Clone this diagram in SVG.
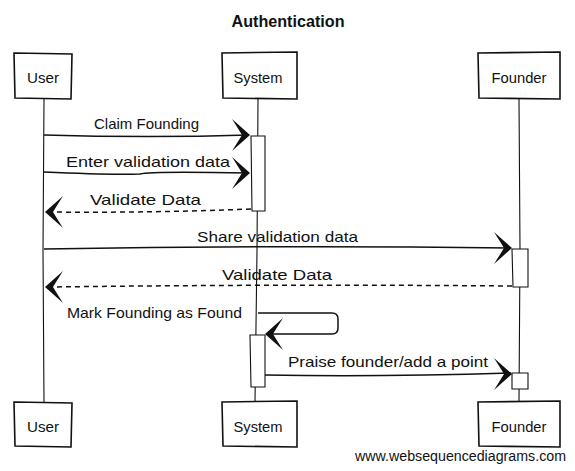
<svg xmlns="http://www.w3.org/2000/svg" width="575" height="471" viewBox="0 0 575 471">
<style>
.bg{fill:#ffffff}
.box{fill:#ffffff;stroke:#111;stroke-width:1.6}
.life{fill:none;stroke:#111;stroke-width:1.1}
.act{fill:#ffffff;stroke:#111;stroke-width:1.1}
.msg{fill:none;stroke:#111;stroke-width:1.5}
.dash{fill:none;stroke:#111;stroke-width:1.5;stroke-dasharray:5 4}
.lbl{font-family:"Liberation Sans",Arial,sans-serif;font-size:15px;fill:#111}
.name{font-family:"Liberation Sans",Arial,sans-serif;font-size:15px;fill:#111;text-anchor:middle}
.title{font-family:"Liberation Sans",Arial,sans-serif;font-size:16px;font-weight:bold;fill:#111;text-anchor:middle}
.wm{font-family:"Liberation Sans",Arial,sans-serif;font-size:14px;fill:#111}
</style>
<defs>
<path id="ah" d="M0,0 L-18,-16 Q-11,-5 -8,0 Q-11,5 -18,16 Z" fill="#111"/>
</defs>
<rect class="bg" x="0" y="0" width="575" height="471"/>
<text class="title" x="288" y="27" textLength="113" lengthAdjust="spacingAndGlyphs">Authentication</text>

<g id="lifelines">
<path class="life" d="M44,99 L43,250 L44,402"/>
<path class="life" d="M258,99 L257,250 L255,402"/>
<path class="life" d="M519,99 L520,250 L519,402"/>
</g>

<g id="user">
<path class="box" d="M14,53 L72,54 L71,99 L15,98 Z"/>
<text class="name" x="43" y="83" textLength="32" lengthAdjust="spacingAndGlyphs">User</text>
<path class="box" d="M14,402 L72,403 L71,447 L15,446 Z"/>
<text class="name" x="43" y="432" textLength="32" lengthAdjust="spacingAndGlyphs">User</text>
</g>

<g id="system">
<path class="box" d="M222,53 L297,52 L297,99 L223,98 Z"/>
<text class="name" x="258" y="83" textLength="49" lengthAdjust="spacingAndGlyphs">System</text>
<path class="box" d="M222,402 L297,401 L297,447 L223,446 Z"/>
<text class="name" x="258" y="432" textLength="49" lengthAdjust="spacingAndGlyphs">System</text>
</g>

<g id="founder">
<path class="box" d="M478,53 L560,52 L560,99 L479,98 Z"/>
<text class="name" x="519" y="83" textLength="55" lengthAdjust="spacingAndGlyphs">Founder</text>
<path class="box" d="M478,402 L560,401 L560,447 L479,446 Z"/>
<text class="name" x="519" y="432" textLength="55" lengthAdjust="spacingAndGlyphs">Founder</text>
</g>

<g id="activations">
<path class="act" d="M251,136 L265,136 L265,211 L252,211 Z"/>
<path class="act" d="M512,249 L528,249 L528,287 L513,287 Z"/>
<path class="act" d="M250,335 L265,335 L265,387 L251,387 Z"/>
<path class="act" d="M512,373 L528,373 L528,389 L512,389 Z"/>
</g>

<g id="connectors">
<path class="msg" d="M44,135 Q150,138 249,135"/>
<use href="#ah" transform="translate(250,135)"/>
<text class="lbl" x="94" y="129" textLength="105" lengthAdjust="spacingAndGlyphs">Claim Founding</text>

<path class="msg" d="M44,172 Q110,175 140,174 Q150,171 249,173"/>
<use href="#ah" transform="translate(250,173)"/>
<text class="lbl" x="66" y="167" textLength="164" lengthAdjust="spacingAndGlyphs">Enter validation data</text>

<path class="dash" d="M251,209 Q150,213 50,212"/>
<use href="#ah" transform="translate(45,212) rotate(180)"/>
<text class="lbl" x="90" y="205" textLength="111" lengthAdjust="spacingAndGlyphs">Validate Data</text>

<path class="msg" d="M44,249 Q280,245 511,248"/>
<use href="#ah" transform="translate(512,248)"/>
<text class="lbl" x="197" y="242" textLength="161" lengthAdjust="spacingAndGlyphs">Share validation data</text>

<path class="dash" d="M512,286 Q280,284 50,287"/>
<use href="#ah" transform="translate(45,287) rotate(180)"/>
<text class="lbl" x="222" y="280" textLength="110" lengthAdjust="spacingAndGlyphs">Validate Data</text>

<path class="msg" d="M258,313 L332,313 Q338,313 338,319 L338,328 Q338,334 332,334 L266,334"/>
<use href="#ah" transform="translate(265,334) rotate(180)"/>
<text class="lbl" x="67" y="318" textLength="175" lengthAdjust="spacingAndGlyphs">Mark Founding as Found</text>

<path class="msg" d="M265,375 Q380,377 511,373"/>
<use href="#ah" transform="translate(512,374)"/>
<text class="lbl" x="288" y="367" textLength="200" lengthAdjust="spacingAndGlyphs">Praise founder/add a point</text>
</g>

<text class="wm" x="355" y="461" textLength="211" lengthAdjust="spacingAndGlyphs">www.websequencediagrams.com</text>
</svg>
